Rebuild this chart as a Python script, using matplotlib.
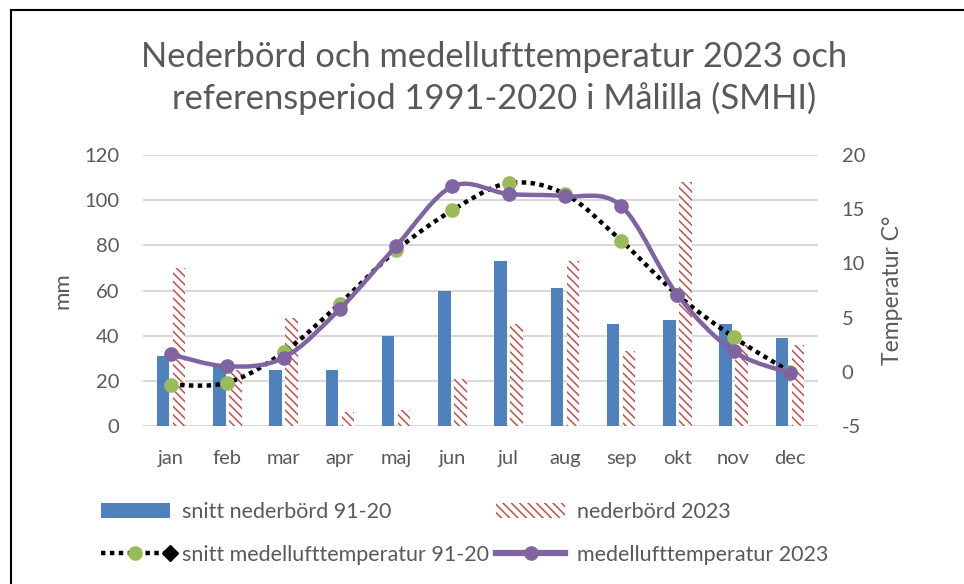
import numpy as np
import matplotlib
matplotlib.use('Agg')
import matplotlib.pyplot as plt
from matplotlib.path import Path
from matplotlib.patches import PathPatch, Patch
from matplotlib.lines import Line2D
from matplotlib.legend_handler import HandlerBase

# ----------------------------------------------------------------------------
#  DATA
# ----------------------------------------------------------------------------
months        = ['jan', 'feb', 'mar', 'apr', 'maj', 'jun', 'jul', 'aug', 'sep', 'okt', 'nov', 'dec']
precip_normal = [31, 26, 25, 25, 40, 60, 73, 61, 45, 47, 45, 39]
precip_2023   = [70, 25, 48, 6, 7, 21, 45, 73, 33, 108, 36, 36]
temp_normal   = [-1.2, -1.0, 1.8, 6.3, 11.2, 14.9, 17.4, 16.4, 12.1, 7.1, 3.2, 0.0]
temp_2023     = [1.6, 0.5, 1.3, 5.8, 11.6, 17.1, 16.4, 16.2, 15.3, 7.1, 1.9, -0.1]

title_text  = 'Nederbörd och medellufttemperatur 2023 och\nreferensperiod 1991-2020 i Målilla (SMHI)'
labels      = ['snitt nederbörd 91-20', 'nederbörd 2023',
               'snitt medellufttemperatur 91-20', 'medellufttemperatur 2023']

# colours
blue   = '#4F81BD'
red    = '#C0504D'
green  = '#9BBB59'
purple = '#8064A2'
grey   = '#595959'
gridc  = '#D9D9D9'

plt.rcParams['font.family'] = ['Lato', 'DejaVu Sans']
plt.rcParams['hatch.linewidth'] = 1.1
plt.rcParams['axes.unicode_minus'] = False


def smooth_path(xs, ys):
    # Excel style smoothed line: cubic bezier through every point
    n     = len(xs)
    verts = [(xs[0], ys[0])]
    codes = [Path.MOVETO]
    for i in range(n - 1):
        a  = i - 1 if i > 0 else i
        d  = i + 2 if i + 2 < n else i + 1
        c1 = (xs[i] + (xs[i + 1] - xs[a]) / 6., ys[i] + (ys[i + 1] - ys[a]) / 6.)
        c2 = (xs[i + 1] - (xs[d] - xs[i]) / 6., ys[i + 1] - (ys[d] - ys[i]) / 6.)
        verts += [c1, c2, (xs[i + 1], ys[i + 1])]
        codes += [Path.CURVE4] * 3
    return Path(verts, codes)


class DottedHandler(HandlerBase):
    # dotted line + green dot + black diamond at the end, like the Excel legend
    def create_artists(self, legend, orig_handle, xdescent, ydescent, width, height, fontsize, trans):
        y    = height / 2. - ydescent
        line = Line2D([-xdescent, width - xdescent], [y, y], color='black', lw=3.2,
                      linestyle=(0, (1, 1)), dash_capstyle='butt')
        dot  = Line2D([width / 2. - xdescent], [y], marker='o', ms=9.5, mfc=green, mec=green, linestyle='none')
        dia  = Line2D([width - xdescent], [y], marker='D', ms=8, color='black', linestyle='none')
        for a in (line, dot, dia):
            a.set_transform(trans)
        return [line, dot, dia]


fig = plt.figure(figsize=(9.64, 5.84), dpi=100)
ax  = fig.add_axes([143 / 964., 1 - 426 / 584., 675 / 964., 271 / 584.])
ax2 = ax.twinx()

x = np.arange(len(months))
w = 0.225
ax.bar(x - 0.142, precip_normal, w, color=blue, zorder=2)
ax.bar(x + 0.142, precip_2023, w, color='white', edgecolor=red, hatch='\\\\\\\\', linewidth=0, zorder=2)

ax.set_ylim(0, 120)
ax.set_yticks(np.arange(0, 121, 20))
ax.set_xlim(-0.5, len(months) - 0.5)
ax.set_xticks(x)
ax.set_xticklabels(months)
ax.grid(axis='y', color=gridc, lw=1.5, zorder=0)
for s in ax.spines.values():
    s.set_visible(False)
ax.axhline(0, color=gridc, lw=1.5, zorder=1)
ax.tick_params(axis='both', length=0, labelsize=14.5, colors=grey)
ax.tick_params(axis='y', pad=17)
ax.tick_params(axis='x', pad=17)
ax.set_ylabel('mm', fontsize=16, color=grey)
ax.yaxis.set_label_coords(-0.105, 0.5)

# temperature lines on the right axis
ax2.add_patch(PathPatch(smooth_path(x, temp_normal), fill=False, edgecolor='black', lw=3.2,
                        linestyle=(0, (1, 1)), capstyle='butt', zorder=3))
ax2.plot(x, temp_normal, 'o', ms=9.5, color=green, zorder=4)
ax2.add_patch(PathPatch(smooth_path(x, temp_2023), fill=False, edgecolor=purple, lw=3.2, zorder=5))
ax2.plot(x, temp_2023, 'o', ms=9.5, color=purple, zorder=6)
ax2.set_ylim(-5, 20)
ax2.set_yticks(np.arange(-5, 21, 5))
for s in ax2.spines.values():
    s.set_visible(False)
ax2.tick_params(axis='y', length=0, labelsize=14.5, colors=grey, pad=17)
ax2.set_ylabel('Temperatur C°', fontsize=16.5, color=grey)
ax2.yaxis.set_label_coords(1.095, 0.5)

fig.text(0.5125, 1 - 78 / 584., title_text, ha='center', va='center', fontsize=24.8,
         color=grey, linespacing=1.3)

# legend
h_bar1 = Patch(facecolor=blue)
h_bar2 = Patch(facecolor='white', edgecolor=red, hatch='\\\\\\\\', linewidth=0)
h_tn   = Line2D([], [], color='black')
h_t23  = Line2D([], [], color=purple, lw=4.5, marker='o', ms=9.5)
fig.legend([h_bar1, h_tn, h_bar2, h_t23], [labels[0], labels[2], labels[1], labels[3]],
           ncol=2, loc='upper left', bbox_to_anchor=(101 / 964., 1 - 502 / 584.),
           frameon=False, fontsize=15.5, labelcolor=grey, handlelength=3.2,
           handletextpad=0.55, columnspacing=0.35, labelspacing=1.05,
           borderpad=0, borderaxespad=0, handler_map={h_tn: DottedHandler()})

# chart border
fig.add_artist(Line2D([11 / 964., 1], [1 - 10 / 584., 1 - 10 / 584.], transform=fig.transFigure, color='black', lw=1.5))
fig.add_artist(Line2D([11 / 964., 11 / 964.], [0, 1 - 10 / 584.], transform=fig.transFigure, color='black', lw=1.5))

fig.savefig('out.png', dpi=100)
